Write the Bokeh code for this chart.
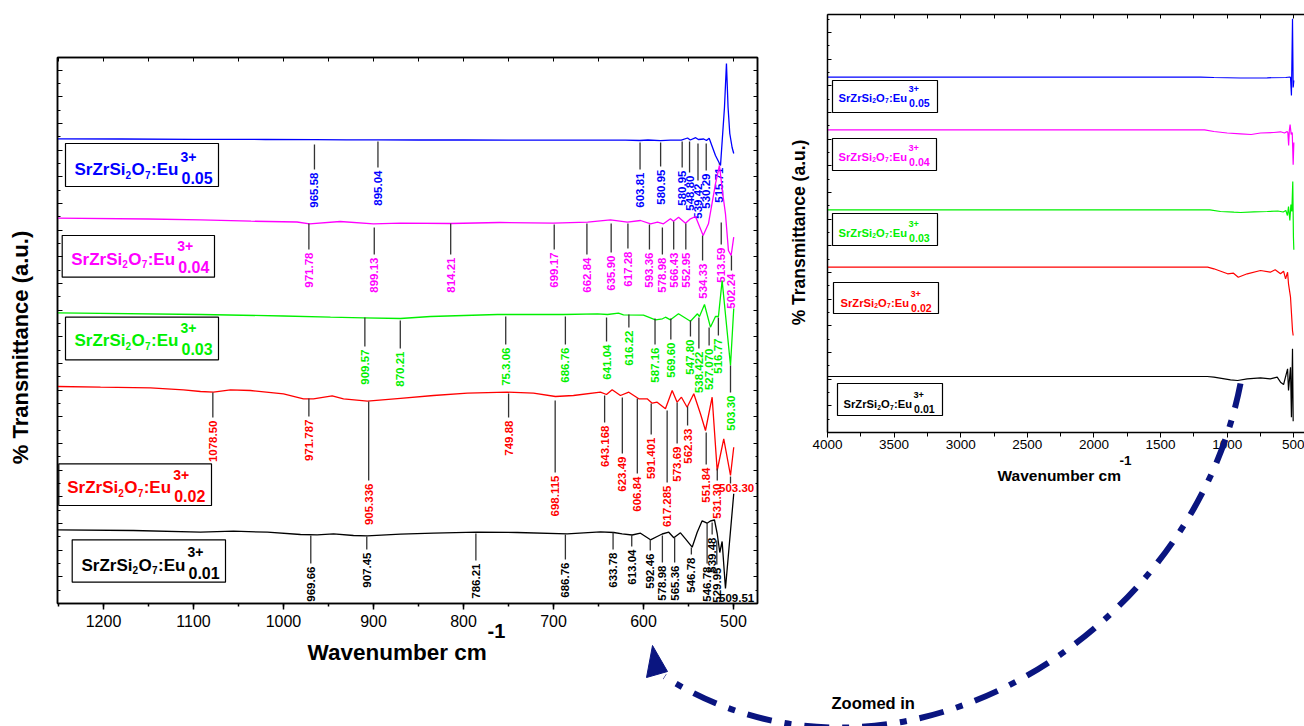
import math

from bokeh.core.properties import value
from bokeh.embed import file_html
from bokeh.models import ColumnDataSource, LinearAxis, Range1d, SingleIntervalTicker
from bokeh.plotting import figure
from bokeh.resources import INLINE

FONT = "Liberation Sans"
NAVY = "#0a1580"
TICK_LINE = "#333333"

# ---------------------------------------------------------------------------
# FT-IR spectra, 1250-500 cm-1 window (transmittance in arbitrary, stacked units)
# ---------------------------------------------------------------------------
eu005_wn = [1251, 1180, 1100, 1020, 965, 930, 895, 850, 800, 750, 700, 650, 620, 604, 595,
            581, 570, 558, 551, 548, 542, 539, 533, 530, 527, 520, 514.4, 510, 507.8, 506,
            504.1, 501.5, 499.7]
eu005_t = [464.7, 464.5, 464.2, 464.0, 463.8, 463.7, 463.6, 463.5, 463.5, 463.4, 463.4, 463.3,
           463.4, 463.0, 463.5, 462.8, 463.3, 463.4, 465.5, 463.5, 465.8, 464.0, 464.5, 463.0,
           465.3, 448, 438, 496, 540, 496, 470, 456, 450]

eu004_wn = [1251, 1150, 1092, 1036, 985, 971, 937, 900, 870, 814, 760, 700, 662, 636.7, 617.8,
            603.3, 592, 584.4, 577.8, 570, 566.7, 561, 553.3, 547.8, 542.2, 533.7, 527.8, 520,
            515.6, 511.4, 508.9, 505.6, 502.6, 499.7]
eu004_t = [385.3, 384.5, 383.7, 382.3, 381.5, 379.7, 382.0, 379.7, 380.3, 380.0, 381.0, 380.3,
           381.3, 383.7, 381.3, 383.0, 379.7, 381.3, 379.7, 384.7, 382.3, 386.3, 380.3, 384.7,
           387.0, 368.0, 379.7, 419.7, 438.0, 406.3, 389.7, 353.0, 348.0, 366.3]

eu003_wn = [1251, 1092, 1000, 947.8, 911.1, 870, 836.7, 762.2, 688.9, 651.1, 640, 627.8, 622.2,
            600, 586.7, 578.9, 575.6, 570, 561.1, 547.8, 540, 537.8, 532.2, 525.6, 520, 516.7,
            512.6, 503.3, 499.7]
eu003_t = [290.7, 289, 287.5, 286.3, 285.7, 285, 287, 289, 289, 289.7, 289, 290.3, 288.7, 288.3,
           283.7, 284.7, 286.3, 283.7, 289.7, 282.3, 289.7, 287, 299, 276.3, 287, 287, 323,
           238, 295]

eu002_wn = [1251, 1203.3, 1147.8, 1111.1, 1092.2, 1077.8, 1058.9, 1036.7, 1000, 977.8, 966.7,
            945.9, 933.3, 906.7, 870, 833.3, 795.6, 751.1, 722.2, 697.8, 677.8, 647.8, 641.1,
            634.8, 625.6, 616.3, 605.2, 595.9, 590.3, 584.8, 575.6, 568.1, 562.6, 557.8, 551.5,
            544.1, 536.7, 531.1, 523.7, 518.1, 510.8, 503.3, 499.7]
eu002_t = [217, 216.3, 215.7, 213.7, 212, 211.3, 213.7, 213, 209.7, 204.7, 204.7, 207.7, 204.7,
           202.3, 205.2, 208, 210.3, 211.3, 210.3, 207, 208, 211.3, 209, 213.7, 208, 211.3,
           204.7, 204.7, 200.3, 201.3, 194.7, 213, 201.3, 206.3, 196.3, 209.7, 189.7, 173,
           206.3, 133, 164.7, 128, 156.3]

eu001_wn = [1251, 1166.7, 1092.2, 1055.6, 1017.8, 981.1, 962.6, 944.4, 922.2, 907, 870, 833.3,
            784.8, 740.3, 684.8, 647.8, 633, 623.7, 612.6, 603.3, 592.2, 584.8, 579.2, 571.9,
            566.3, 558.9, 553.3, 545.9, 540.3, 534.8, 529.3, 525.6, 521.1, 518.1, 515.2, 512.6,
            508.9, 499.7]
eu001_t = [73.7, 73, 71.3, 72.3, 71.3, 69, 68.7, 69.7, 68, 67.7, 69.3, 70.3, 71.3, 71, 69.7,
           71.7, 71, 69.7, 68.5, 70.3, 63.7, 67, 69.5, 71.3, 65.7, 70.7, 64.7, 56.3, 71.3, 82.7,
           80.3, 82.5, 83.5, 70, 51, 62, 15, 109.7]

# ---------------------------------------------------------------------------
# Band assignments: position, printed value, top of marker, top of label
# ---------------------------------------------------------------------------
eu005_peak = [965.58, 895.04, 603.81, 580.95, 557.0, 548.80, 539.42, 530.29, 515.71]
eu005_text = ["965.58", "895.04", "603.81", "580.95", "580.95", "548.80", "539.42", "530.29", "515.71"]
eu005_mark = [459, 462, 461, 461, 462, 462, 460, 460, 440]
eu005_lab = [431, 433, 431, 434, 433, 428, 420, 430, 436]

eu004_peak = [971.78, 899.13, 814.21, 699.17, 662.84, 635.90, 617.28, 593.36, 578.98, 566.43,
              552.95, 534.33, 513.59, 502.24]
eu004_text = ["971.78", "899.13", "814.21", "699.17", "662.84", "635.90", "617.28", "593.36",
              "578.98", "566.43", "552.95", "534.33", "513.59", "502.24"]
eu004_mark = [380, 376, 380, 379, 380, 380, 380, 379, 376, 382, 380, 368, 381, 348]
eu004_lab = [351, 346, 346, 351, 346, 348, 352, 351, 346, 351, 351, 340, 356, 330]

eu003_peak = [909.57, 870.21, 753.06, 686.76, 641.04, 616.22, 587.16, 569.60, 547.80, 538.422,
              527.070, 516.77, 503.30]
eu003_text = ["909.57", "870.21", "75.3.06", "686.76", "641.04", "616.22", "587.16", "569.60",
              "547.80", "538.422", "527.070", "516.77", "503.30"]
eu003_mark = [286, 283, 287, 287, 286, 289, 285, 285, 283, 286, 276, 286, 238]
eu003_lab = [254, 252, 256, 256, 259, 273, 256, 261, 264, 252, 255, 265, 208]

eu002_peak = [1078.50, 971.787, 905.336, 749.88, 698.115, 643.168, 623.49, 606.84, 591.401,
              573.7, 562.6, 551.0, 530.3, 518.0]
eu002_text = ["1078.50", "971.787", "905.336", "749.88", "698.115", "643.168", "623.49",
              "606.84", "591.401", "617.285", "573.69", "562.33", "551.84", "531.30"]
eu002_mark = [211, 205, 202, 210, 203, 208, 206, 205, 200, 193, 201, 197, 171, 135]
eu002_lab = [183, 184, 120, 183, 128, 178, 147, 127, 166, 118, 157, 175, 136, 120]

eu001_peak = [969.66, 907.45, 786.21, 686.76, 633.78, 613.04, 592.46, 578.98, 565.36, 546.78,
              529.3, 523.7, 518.5]
eu001_text = ["969.66", "907.45", "786.21", "686.76", "633.78", "613.04", "592.46", "578.98",
              "565.36", "546.78", "546.78", "539.48", "529.95"]
eu001_mark = [68, 67, 70, 69, 71, 69, 64, 68, 66, 56, 81, 81, 63]
eu001_lab = [37, 51, 40, 41, 51, 54, 50, 38, 38, 46, 37, 66, 36]

# bands written horizontally at the right edge
flat_text = ["503.30", "509.51"]
flat_peak = [503.30, None]
flat_mark = [127, None]
flat_y = [116, 6]

# ---------------------------------------------------------------------------
# Full-range spectra, 4000-420 cm-1
# ---------------------------------------------------------------------------
full005_wn = [4000, 3000, 2000, 1200, 1100, 900, 700, 560, 530, 525, 518, 510, 505, 500]
full005_t = [355.3, 355.3, 355.3, 355.3, 355.0, 354.5, 354.7, 355.0, 355.5, 355.0, 337.0, 413.7, 345.0, 352.0]
full004_wn = [4000, 2000, 1170, 1100, 1000, 900, 820, 750, 650, 600, 570, 550, 545, 539, 534,
              528, 520, 512, 505, 500]
full004_t = [302.7, 302.7, 302.7, 301.0, 299.5, 298.7, 298.0, 299.5, 300.0, 300.7, 299.5, 301.0,
             300.0, 287.0, 302.0, 308.0, 298.0, 300.0, 267.7, 290.0]
full003_wn = [4000, 2000, 1130, 1050, 950, 900, 800, 700, 620, 580, 560, 548, 540, 530, 522,
              515, 508, 503, 500]
full003_t = [222.7, 222.7, 222.7, 221.0, 220.3, 220.0, 220.7, 221.0, 221.5, 220.5, 222.0, 217.0,
             226.0, 212.0, 228.0, 221.0, 251.0, 195.0, 182.7]
full002_wn = [4000, 2000, 1147, 1100, 997, 953, 917, 850, 750, 677, 640, 600, 577, 562, 547,
              540, 525, 510, 505]
full002_t = [165.3, 165.3, 165.3, 163.7, 158.7, 159.3, 155.3, 158.7, 162.0, 160.3, 162.7, 158.7,
             161.3, 153.7, 160.3, 148.7, 135.3, 102.0, 97.0]
full001_wn = [4000, 2000, 1150, 1100, 975, 922, 850, 750, 677, 625, 600, 577, 547, 540, 525,
              518, 510, 505]
full001_t = [56.0, 56.0, 56.0, 55.3, 52.7, 52.0, 53.7, 54.7, 53.7, 55.3, 50.3, 48.0, 63.7, 42.0,
             65.3, 15.3, 83.7, 11.3]

doses = ["0.05", "0.04", "0.03", "0.02", "0.01"]
colors = ["#0000ff", "#ff00ff", "#00f000", "#ff0000", "#000000"]


def hide_labels(axis):
    axis.major_label_text_font_size = "0px"
    axis.major_label_text_color = None
    axis.major_label_standoff = 0


def mirror_axis(ticker, tick_in, minor_in=0):
    ax = LinearAxis(ticker=ticker, major_tick_in=tick_in, major_tick_out=0,
                    minor_tick_in=minor_in, minor_tick_out=0, axis_line_width=1.5)
    hide_labels(ax)
    return ax


def pinned(left):
    return {"position": "absolute", "left": f"{left}px", "top": "0px"}


# ---------------------------------------------------------------- main panel
main = figure(width=780, height=726, x_range=Range1d(1251.1, 473.3), y_range=Range1d(0, 546),
              output_backend="svg", toolbar_location=None, styles=pinned(0),
              min_border_left=57, min_border_right=23, min_border_top=57, min_border_bottom=123)
main.grid.visible = False
main.outline_line_color = "black"
main.outline_line_width = 1.5
main.background_fill_color = "white"

xa = main.xaxis[0]
xa.ticker = SingleIntervalTicker(interval=100, num_minor_ticks=2)
xa.major_tick_out, xa.major_tick_in = 6, 0
xa.minor_tick_out, xa.minor_tick_in = 3, 0
xa.axis_line_width = 1.5
xa.major_tick_line_width = 1.5
xa.minor_tick_line_width = 1.5
xa.major_label_text_font = FONT
xa.major_label_text_font_size = "16px"
xa.major_label_text_color = "black"
xa.major_label_standoff = 5

ya = main.yaxis[0]
ya.ticker = SingleIntervalTicker(interval=26.67, num_minor_ticks=2)
ya.major_tick_in, ya.major_tick_out = 5, 0
ya.minor_tick_in, ya.minor_tick_out = 3, 0
ya.axis_line_width = 1.5
hide_labels(ya)

main.add_layout(mirror_axis(SingleIntervalTicker(interval=50, num_minor_ticks=0), 4), "above")
main.add_layout(mirror_axis(SingleIntervalTicker(interval=26.67, num_minor_ticks=2), 4, 2), "right")

spectra = [(eu005_wn, eu005_t), (eu004_wn, eu004_t), (eu003_wn, eu003_t),
           (eu002_wn, eu002_t), (eu001_wn, eu001_t)]
bands = [(eu005_peak, eu005_text, eu005_mark, eu005_lab),
         (eu004_peak, eu004_text, eu004_mark, eu004_lab),
         (eu003_peak, eu003_text, eu003_mark, eu003_lab),
         (eu002_peak, eu002_text, eu002_mark, eu002_lab),
         (eu001_peak, eu001_text, eu001_mark, eu001_lab)]

for (wn, t), (pk, txt, mark, lab), col in zip(spectra, bands, colors):
    main.line(wn, t, line_color=col, line_width=1.3)
    main.segment(x0=pk, y0=mark, x1=pk, y1=[v + 3 for v in lab],
                 line_color=TICK_LINE, line_width=1.3)
    src = ColumnDataSource(dict(x=pk, y=lab, text=txt))
    main.text(x="x", y="y", text="text", source=src, angle=math.pi / 2,
              text_align="right", text_baseline="middle", text_color=col,
              text_font=value(FONT), text_font_style="bold", text_font_size="11.5px")

# horizontal band values (0.02 and 0.01 samples)
main.segment(x0=[flat_peak[0]], y0=[flat_mark[0]], x1=[flat_peak[0]], y1=[flat_y[0] + 4],
             line_color=TICK_LINE, line_width=1.3)
main.text(x=[477, 477], y=flat_y, text=flat_text, text_align="right", text_baseline="middle",
          text_color=[colors[3], colors[4]], text_font=value(FONT), text_font_style="bold",
          text_font_size="11.5px")

# ---------------------------------------------------------------- full-range panel
full = figure(width=524, height=726, x_range=Range1d(4000, 420), y_range=Range1d(0, 418),
              output_backend="svg", toolbar_location=None, styles=pinned(780),
              min_border_left=47, min_border_right=0, min_border_top=14, min_border_bottom=294)
full.grid.visible = False
full.outline_line_color = None
full.background_fill_color = "white"

fx = full.xaxis[0]
fx.ticker = SingleIntervalTicker(interval=500, num_minor_ticks=2)
fx.major_tick_out, fx.major_tick_in = 5, 0
fx.minor_tick_out, fx.minor_tick_in = 4, 0
fx.axis_line_width = 1.5
fx.major_label_text_font = FONT
fx.major_label_text_font_size = "13.5px"
fx.major_label_text_color = "black"
fx.major_label_standoff = 2

fy = full.yaxis[0]
fy.ticker = SingleIntervalTicker(interval=26.67, num_minor_ticks=2)
fy.major_tick_in, fy.major_tick_out = 4, 0
fy.minor_tick_in, fy.minor_tick_out = 2, 0
fy.axis_line_width = 1.5
hide_labels(fy)

full.add_layout(mirror_axis(SingleIntervalTicker(interval=250, num_minor_ticks=0), 4), "above")

full_spectra = [(full005_wn, full005_t), (full004_wn, full004_t), (full003_wn, full003_t),
                (full002_wn, full002_t), (full001_wn, full001_t)]
for (wn, t), col in zip(full_spectra, colors):
    full.line(wn, t, line_color=col, line_width=1.2)

# ---------------------------------------------------------------- overlay (titles, keys, arrow)
ov = figure(width=1304, height=726, x_range=Range1d(0, 1304), y_range=Range1d(726, 0),
            output_backend="svg", toolbar_location=None, x_axis_location=None,
            y_axis_location=None, min_border=0, background_fill_color=None,
            border_fill_color=None, outline_line_color=None, styles=pinned(0))
ov.grid.visible = False

key_x0 = [74, 70.7, 74, 66.7, 81]
key_base = [169, 258.5, 340, 487, 564.5]
key_box = [(65, 218, 143, 186), (61.7, 214, 235, 276.7), (65, 218, 316.7, 359.3),
           (58.3, 211, 463.3, 505), (71.7, 225, 539.3, 581.7)]

full_key_x0 = [838, 838, 838, 840, 843]
full_key_base = [97, 156, 232, 302, 403.5]
full_key_box = [(832, 937, 80, 112), (832, 936, 138, 170), (832, 937, 213, 245),
                (833, 938, 282, 313), (837, 942, 383, 415)]

kx, ky, kt, ks, kc = [], [], [], [], []


def formula(x0, base, dose, col, s):
    parts = (("SrZrSi", 0, 0, 17), ("2", 51, 5, 10), ("O", 57, 0, 17), ("7", 70.5, 5, 10),
             (":Eu", 76.5, 0, 17), ("3+", 106, -13, 14), (dose, 107, 8, 16))
    for txt, dx, dy, fs in parts:
        kx.append(x0 + dx * s)
        ky.append(base + dy * s)
        kt.append(txt)
        ks.append(f"{fs * s:.1f}px")
        kc.append(col)


for i, dose in enumerate(doses):
    formula(key_x0[i], key_base[i], dose, colors[i], 1.0)
    formula(full_key_x0[i], full_key_base[i], dose, colors[i], 0.66)

boxes = key_box + full_key_box
ov.quad(left=[b[0] for b in boxes], right=[b[1] for b in boxes],
        top=[b[2] for b in boxes], bottom=[b[3] for b in boxes],
        fill_color=None, line_color="black", line_width=1.2)
ov.text(x="x", y="y", text="text", text_color="color", text_font_size="size",
        source=ColumnDataSource(dict(x=kx, y=ky, text=kt, size=ks, color=kc)),
        text_font=value(FONT), text_font_style="bold", text_baseline="alphabetic")

# axis titles
ov.text(x=[307, 997], y=[652, 475], text=["Wavenumber cm", "Wavenumber cm"],
        text_font_size=["22.5px", "15.5px"], text_font=value(FONT), text_font_style="bold",
        text_baseline="alphabetic", text_color="black")
ov.text(x=[487, 1119], y=[630, 460], text=["-1", "-1"], text_font_size=["20px", "13.5px"],
        text_font=value(FONT), text_font_style="bold", text_baseline="alphabetic",
        text_color="black")
ov.text(x=[20, 798], y=[347, 232], text=["% Transmittance (a.u.)", "% Transmittance (a.u.)"],
        text_font_size=["22px", "17.5px"], angle=math.pi / 2, text_align="center",
        text_baseline="alphabetic", text_font=value(FONT), text_font_style="bold",
        text_color="black")

# zoom arrow
ov.bezier(x0=[1240], y0=[383], x1=[664], y1=[676], cx0=[1190], cy0=[640], cx1=[890], cy1=[820],
          line_color=NAVY, line_width=6, line_dash="25 13 7 13")
ov.patch(x=[652, 646, 667], y=[645, 677, 671], fill_color=NAVY, line_color=NAVY)
ov.text(x=[831], y=[702], text=["Zoomed in"], text_font_size="16.5px", text_font=value(FONT),
        text_font_style="bold", text_baseline="alphabetic", text_color="black")

with open("out.html", "w") as f:
    f.write(file_html([main, full, ov], INLINE))
